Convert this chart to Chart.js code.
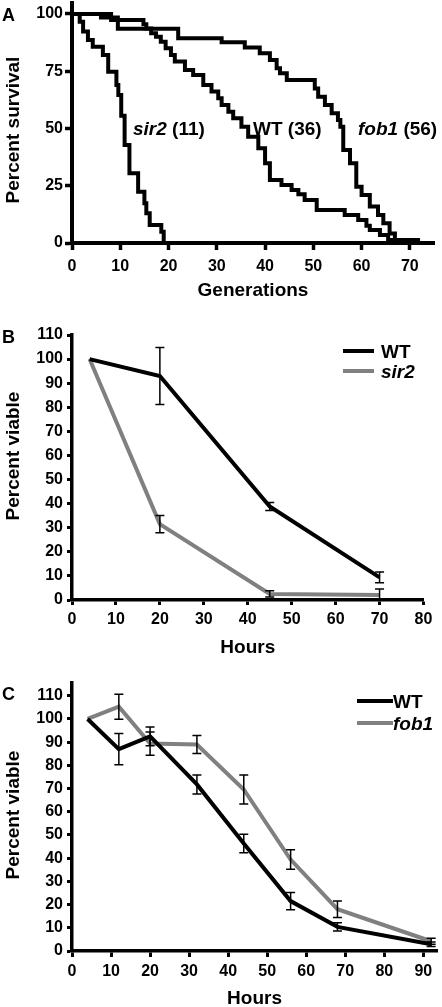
<!DOCTYPE html>
<html lang="en">
<head>
<meta charset="UTF-8">
<title>Lifespan of WT, sir2 and fob1</title>
<script src="https://cdn.jsdelivr.net/npm/chart.js"></script>
<style>
  body { margin: 0; background: #fff; font-family: "Liberation Sans", Arial, sans-serif; font-weight: bold; color: #000; }
  #page { position: relative; width: 442px; height: 1007px; overflow: hidden; }
  .box { position: absolute; left: 0; width: 442px; }
  .lbl { position: absolute; line-height: 1; white-space: nowrap; }
  .ytitle { position: absolute; font-size: 19px; line-height: 1; white-space: nowrap; transform: translate(-50%, -50%) rotate(-90deg); }
  .key { position: absolute; height: 4px; }
</style>
</head>
<body>
<div id="page">
  <div class="box" style="top:0;height:302px"><canvas id="chartA"></canvas></div>
  <div class="box" style="top:310px;height:349px"><canvas id="chartB"></canvas></div>
  <div class="box" style="top:662px;height:348px"><canvas id="chartC"></canvas></div>

  <div class="lbl" style="left:2px;top:6px;font-size:18px">A</div>
  <div class="lbl" style="left:2px;top:328px;font-size:18px">B</div>
  <div class="lbl" style="left:2px;top:685px;font-size:18px">C</div>

  <div class="ytitle" style="left:12px;top:130px">Percent survival</div>
  <div class="ytitle" style="left:12px;top:456px">Percent viable</div>
  <div class="ytitle" style="left:12px;top:815px">Percent viable</div>

  <div class="lbl" style="left:133px;top:119px;font-size:19px"><i>sir2</i> (11)</div>
  <div class="lbl" style="left:253px;top:119px;font-size:19px">WT (36)</div>
  <div class="lbl" style="left:358px;top:119px;font-size:19px"><i>fob1</i> (56)</div>

  <div class="key" style="left:343px;top:349px;width:31px;background:#000"></div>
  <div class="lbl" style="left:381px;top:342px;font-size:19px">WT</div>
  <div class="key" style="left:343px;top:369px;width:31px;background:#808080"></div>
  <div class="lbl" style="left:381px;top:362px;font-size:19px"><i>sir2</i></div>

  <div class="key" style="left:357px;top:699px;width:36px;background:#000"></div>
  <div class="lbl" style="left:393px;top:692px;font-size:19px">WT</div>
  <div class="key" style="left:357px;top:721px;width:36px;background:#808080"></div>
  <div class="lbl" style="left:393px;top:714px;font-size:19px"><i>fob1</i></div>
</div>
<script>
// A: survival curves (generation of each drop, survival after it)
const sir2Gen = [0, 1.6, 2.3, 3.3, 4.3, 6.4, 7.5, 9.2, 9.6, 10.2, 10.9, 11.9, 13.7, 15, 15.4, 16.1, 18.5, 19];
const sir2Surv = [100, 96.6, 92.3, 88.6, 85.7, 82.1, 74.8, 69, 64.6, 55.6, 42.8, 30.4, 22.4, 17.3, 13, 7.9, 4.9, 0];
const wtGen = [0, 8.1, 14.8, 15.4, 16.4, 17.4, 18.4, 19.4, 20.5, 21.3, 23.4, 25.1, 27.2, 28.9, 30.3, 31, 32.4, 33.4, 35.1, 36.5,
  38.6, 40, 41, 43.4, 45.5, 46.9, 48.2, 50.7, 56.5, 59.3, 61, 61.7, 63.8, 65.5, 66.5];
const wtSurv = [100, 97.4, 95.5, 93.7, 91.6, 90.1, 87.9, 85, 82.1, 79.2, 75.5, 73.4, 69, 66.1, 63.2, 60.3, 57.3, 54.5, 50.8, 46.4,
  41.4, 34.8, 27.5, 25.3, 23.1, 21.3, 18.8, 14.4, 12.2, 10, 7.5, 5.7, 3.5, 1.3, 0];
const fobGen = [0, 6, 9.5, 22, 31, 35.8, 38.9, 41, 42.4, 43.1, 44.5, 50.3, 51, 52.4, 53.8, 55.1, 55.6, 56.2, 57.6, 58.9,
  60, 61.7, 63.4, 64.5, 65.8, 66.9, 71.7];
const fobSurv = [100, 98.5, 93.5, 89.4, 87.6, 85.3, 82.8, 79.9, 76.3, 74.1, 71.2, 67.5, 63.9, 60.3, 56.6, 53.7, 50.8, 40.6, 34.8, 24.6,
  21, 15.9, 12.2, 8.6, 4.2, 1.3, 0];
const genTicks = [0, 10, 20, 30, 40, 50, 60, 70];
const survTicks = [0, 25, 50, 75, 100];

// B: viability, WT vs sir2
const hoursB = [4, 20, 45, 70];
const wtB = [100, 93, 38.8, 9.4];
const wtErrB = [0, 11.8, 1.7, 2.2];
const sir2B = [100, 31.5, 2.5, 2.1];
const sir2ErrB = [0, 3.6, 1.3, 2.5];
const hourTicksB = [0, 10, 20, 30, 40, 50, 60, 70, 80];
const viableTicksB = [0, 10, 20, 30, 40, 50, 60, 70, 80, 90, 100, 110];

// C: viability, WT vs fob1
const hoursC = [4, 12, 20, 32, 44, 56, 68, 92];
const wtC = [100, 87, 92.5, 71.8, 46.3, 21.5, 10.4, 2.9];
const wtErrC = [0, 6.7, 4, 4.1, 4, 3.7, 1.8, 1];
const fobC = [100, 105.3, 89.4, 89, 69.6, 39.4, 18, 4.2];
const fobErrC = [0, 5.4, 5, 3.9, 6.2, 4.2, 3.6, 1.3];
const hourTicksC = [0, 10, 20, 30, 40, 50, 60, 70, 80, 90];
const viableTicksC = [0, 10, 20, 30, 40, 50, 60, 70, 80, 90, 100, 110];

const black = '#000';
const grey = '#808080';
Chart.defaults.font.family = '"Liberation Sans", Arial, sans-serif';
Chart.defaults.color = black;

function pts(xs, ys) {
  return xs.map((x, i) => ({ x: x, y: ys[i] }));
}

function axis(o) {
  return {
    type: 'linear',
    min: o.min,
    max: o.max,
    border: { display: true, color: black, width: o.lw },
    grid: { drawOnChartArea: false, drawTicks: true, tickLength: o.tl, tickWidth: o.lw - 0.5, color: black },
    ticks: { color: black, padding: o.pad, font: { size: 16, weight: 'bold' } },
    title: o.title
      ? { display: true, text: o.title, color: black, padding: 0, font: { size: 19, weight: 'bold' } }
      : { display: false },
    afterBuildTicks: s => { s.ticks = o.ticks.map(v => ({ value: v })); },
    afterFit: s => {
      if (s.isHorizontal()) { s.height = o.size; s.paddingLeft = 0; s.paddingRight = 0; }
      else { s.width = o.size; s.paddingTop = 0; s.paddingBottom = 0; }
    }
  };
}

const errorBars = {
  id: 'errorBars',
  afterDatasetsDraw(chart) {
    const ctx = chart.ctx, xs = chart.scales.x, ys = chart.scales.y;
    ctx.save();
    ctx.strokeStyle = black;
    ctx.lineWidth = 1.5;
    chart.data.datasets.forEach(ds => {
      if (!ds.errors) return;
      ds.data.forEach((p, i) => {
        const e = ds.errors[i];
        if (!e) return;
        const x = xs.getPixelForValue(p.x);
        const yt = ys.getPixelForValue(p.y + e);
        const yb = ys.getPixelForValue(Math.max(p.y - e, 0));
        ctx.beginPath();
        ctx.moveTo(x, yt); ctx.lineTo(x, yb);
        ctx.moveTo(x - 4.5, yt); ctx.lineTo(x + 4.5, yt);
        ctx.moveTo(x - 4.5, yb); ctx.lineTo(x + 4.5, yb);
        ctx.stroke();
      });
    });
    ctx.restore();
  }
};

const common = {
  responsive: true,
  maintainAspectRatio: false,
  animation: false,
  events: [],
  plugins: { legend: { display: false }, tooltip: { enabled: false } }
};

function stepSet(xs, ys) {
  return { data: pts(xs, ys), borderColor: black, borderWidth: 4, pointRadius: 0, fill: false, stepped: 'before', borderJoinStyle: 'miter' };
}

new Chart(document.getElementById('chartA'), {
  type: 'line',
  data: { datasets: [stepSet(sir2Gen, sir2Surv), stepSet(wtGen, wtSurv), stepSet(fobGen, fobSurv)] },
  options: Object.assign({}, common, {
    layout: { padding: { top: 2.5, right: 8, left: 0, bottom: 0 } },
    scales: {
      x: axis({ min: 0, max: 75, ticks: genTicks, size: 59, tl: 7, pad: 7, lw: 4, title: 'Generations' }),
      y: axis({ min: 0, max: 105, ticks: survTicks, size: 72, tl: 7, pad: 2, lw: 4 })
    }
  })
});

function lineSet(xs, ys, errs, color) {
  return { data: pts(xs, ys), errors: errs, borderColor: color, borderWidth: 4, pointRadius: 0, fill: false, tension: 0 };
}

new Chart(document.getElementById('chartB'), {
  type: 'line',
  data: { datasets: [lineSet(hoursB, wtB, wtErrB, black), lineSet(hoursB, sir2B, sir2ErrB, grey)] },
  options: Object.assign({}, common, {
    layout: { padding: { top: 25, right: 18.5, left: 0, bottom: 0 } },
    scales: {
      x: axis({ min: 0, max: 80, ticks: hourTicksB, size: 59, tl: 5, pad: 5, lw: 3.5, title: 'Hours' }),
      y: axis({ min: 0, max: 110, ticks: viableTicksB, size: 72, tl: 5, pad: 4, lw: 3.5 })
    }
  }),
  plugins: [errorBars]
});

new Chart(document.getElementById('chartC'), {
  type: 'line',
  data: { datasets: [lineSet(hoursC, wtC, wtErrC, black), lineSet(hoursC, fobC, fobErrC, grey)] },
  options: Object.assign({}, common, {
    layout: { padding: { top: 21, right: 5, left: 0, bottom: 0 } },
    scales: {
      x: axis({ min: 0, max: 93.5, ticks: hourTicksC, size: 59, tl: 6, pad: 5, lw: 3.5, title: 'Hours' }),
      y: axis({ min: 0, max: 115.5, ticks: viableTicksC, size: 72, tl: 5, pad: 4, lw: 3.5 })
    }
  }),
  plugins: [errorBars]
});
</script>
</body>
</html>
